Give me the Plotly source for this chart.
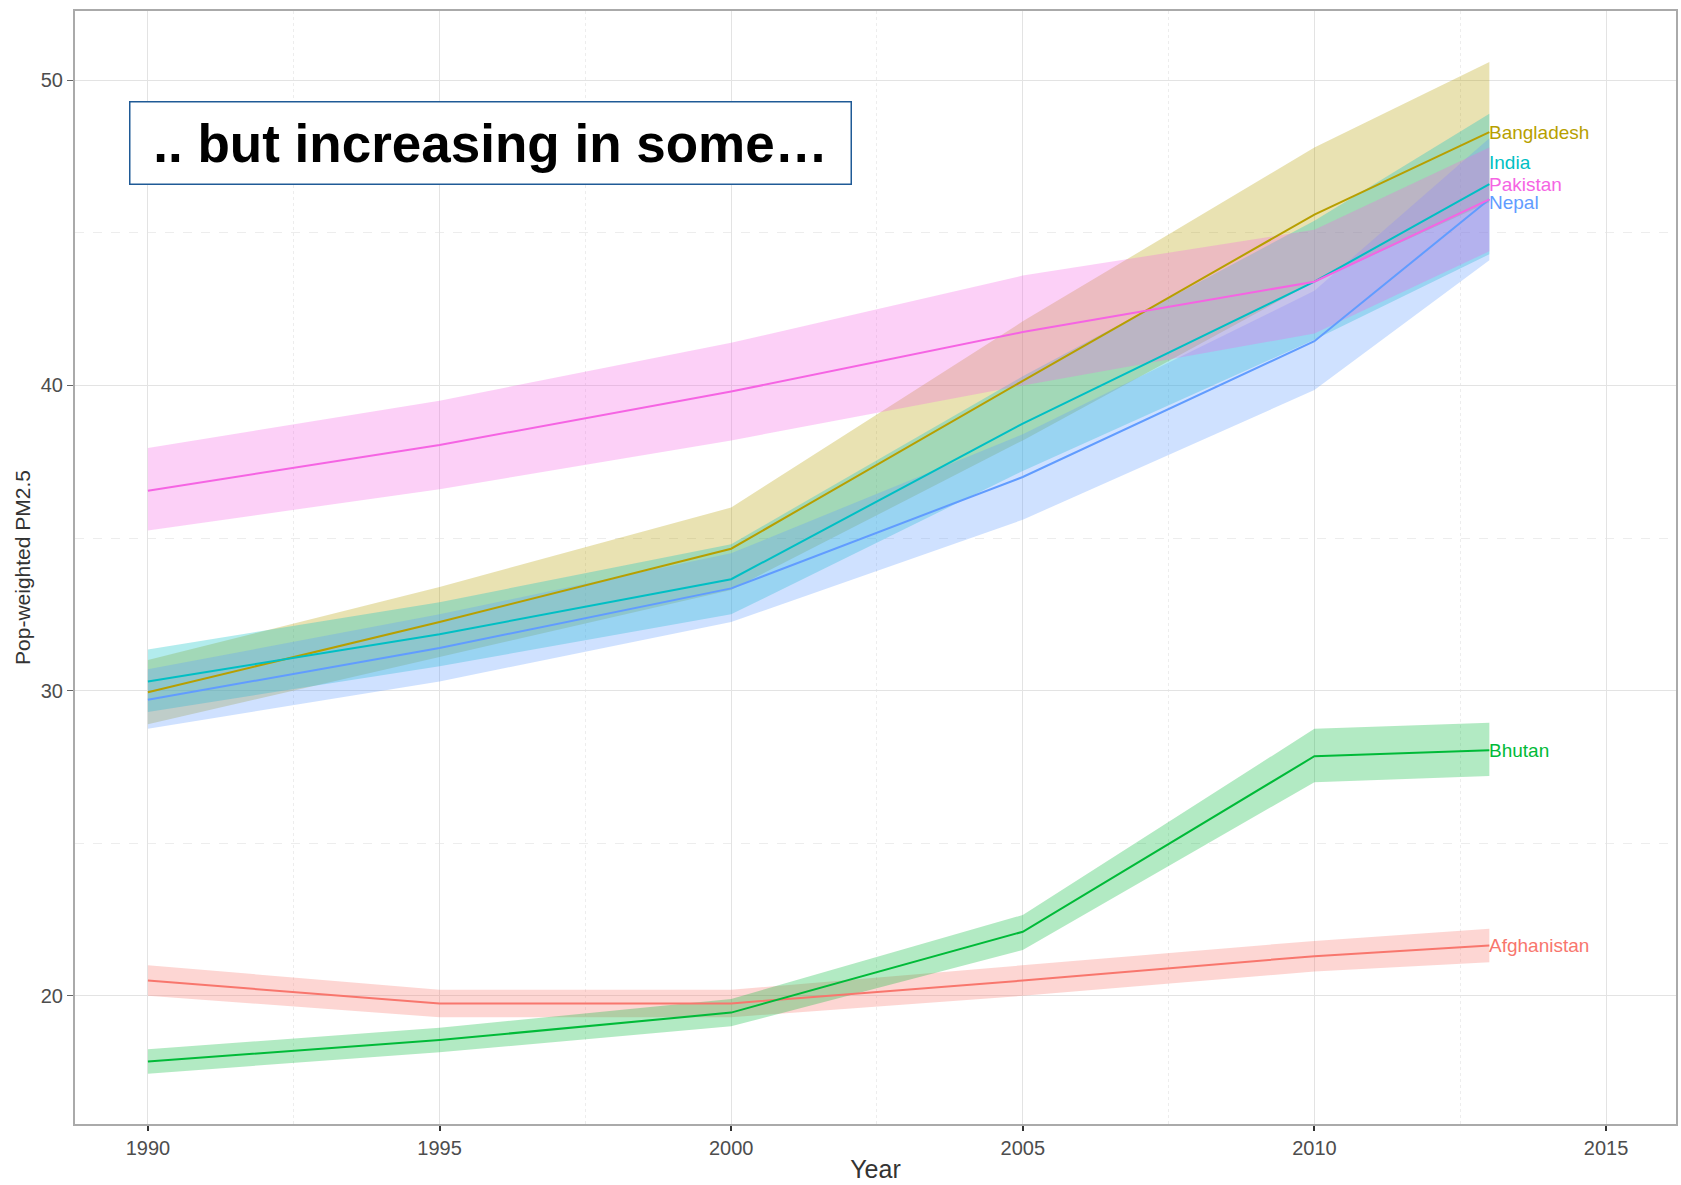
import plotly.graph_objects as go

# Population-weighted PM2.5 by country, with uncertainty bands
years = [1990, 1995, 2000, 2005, 2010, 2013]

countries = ["Afghanistan", "Bangladesh", "Bhutan", "India", "Nepal", "Pakistan"]
colors = ["#F8766D", "#B79F00", "#00BA38", "#00BFC4", "#619CFF", "#F564E3"]

afghanistan = [20.5, 19.75, 19.75, 20.5, 21.3, 21.65]
afghanistan_lo = [20.0, 19.3, 19.3, 20.0, 20.8, 21.1]
afghanistan_hi = [21.0, 20.2, 20.2, 21.0, 21.8, 22.2]

bangladesh = [29.95, 32.25, 34.65, 40.15, 45.6, 48.3]
bangladesh_lo = [28.9, 31.1, 33.3, 38.2, 43.4, 46.0]
bangladesh_hi = [31.0, 33.4, 36.0, 42.1, 47.8, 50.6]

bhutan = [17.85, 18.55, 19.45, 22.1, 27.85, 28.05]
bhutan_lo = [17.45, 18.15, 19.0, 21.5, 27.0, 27.2]
bhutan_hi = [18.25, 18.95, 19.9, 22.65, 28.75, 28.95]

india = [30.3, 31.85, 33.65, 38.75, 43.4, 46.6]
india_lo = [29.3, 30.8, 32.5, 37.2, 41.5, 44.3]
india_hi = [31.35, 32.9, 34.8, 40.3, 45.4, 48.9]

nepal = [29.7, 31.4, 33.35, 37.0, 41.45, 46.1]
nepal_lo = [28.75, 30.3, 32.25, 35.6, 39.85, 44.1]
nepal_hi = [30.7, 32.5, 34.5, 38.4, 43.1, 48.1]

pakistan = [36.55, 38.05, 39.8, 41.75, 43.4, 46.1]
pakistan_lo = [35.25, 36.6, 38.2, 40.0, 41.7, 44.4]
pakistan_hi = [37.95, 39.5, 41.4, 43.6, 45.1, 47.8]

label_y = [21.65, 48.3, 28.05, 47.3, 46.0, 46.6]

series = [
    (afghanistan, afghanistan_lo, afghanistan_hi),
    (bangladesh, bangladesh_lo, bangladesh_hi),
    (bhutan, bhutan_lo, bhutan_hi),
    (india, india_lo, india_hi),
    (nepal, nepal_lo, nepal_hi),
    (pakistan, pakistan_lo, pakistan_hi),
]

x_ticks = [1990, 1995, 2000, 2005, 2010, 2015]
y_ticks = [20, 30, 40, 50]


def rgba(hex_color, alpha):
    h = hex_color.lstrip("#")
    r, g, b = int(h[0:2], 16), int(h[2:4], 16), int(h[4:6], 16)
    return f"rgba({r},{g},{b},{alpha})"


fig = go.Figure()

# ribbons first so lines sit on top
for name, col, (mid, lo, hi) in zip(countries, colors, series):
    fig.add_trace(go.Scatter(
        x=years + years[::-1],
        y=hi + lo[::-1],
        fill="toself",
        fillcolor=rgba(col, 0.3),
        line=dict(width=0),
        mode="lines",
        hoverinfo="skip",
        showlegend=False,
    ))

for name, col, (mid, lo, hi) in zip(countries, colors, series):
    fig.add_trace(go.Scatter(
        x=years, y=mid, mode="lines",
        line=dict(color=col, width=2),
        name=name, showlegend=False,
    ))

for name, col, ly in zip(countries, colors, label_y):
    fig.add_annotation(
        x=years[-1], y=ly, text=name, showarrow=False,
        xanchor="left", yanchor="middle", xshift=-2,
        font=dict(family="Liberation Sans, Arial", size=19, color=col),
    )

# headline box
fig.add_annotation(
    xref="paper", yref="paper", x=0.0335, y=0.9195,
    xanchor="left", yanchor="top",
    text="<b>.. but increasing in some…</b>", showarrow=False,
    font=dict(family="Liberation Sans, Arial", size=53, color="black"),
    bordercolor="#1F5A96", borderwidth=1.5, borderpad=5,
    bgcolor="white", width=710, height=71, align="center", valign="middle",
)

fig.update_layout(
    width=1681, height=1185,
    margin=dict(l=75, r=3, t=11, b=61),
    paper_bgcolor="white", plot_bgcolor="white",
    font=dict(family="Liberation Sans, Arial", color="#333333"),
    xaxis=dict(
        range=[1988.75, 2016.2], tickvals=x_ticks,
        showgrid=True, gridcolor="#E3E3E3", gridwidth=1.2,
        minor=dict(dtick=2.5, tick0=1987.5, showgrid=True, gridcolor="#EDEDED", griddash="dot", gridwidth=1),
        showline=True, linecolor="#AAAAAA", linewidth=2, mirror=True,
        ticks="outside", ticklen=5, tickcolor="#333333", tickwidth=2,
        tickfont=dict(size=20, color="#4D4D4D"),
        title=dict(text="Year", font=dict(size=25, color="#333333"), standoff=2),
        zeroline=False,
    ),
    yaxis=dict(
        range=[15.8, 52.27], tickvals=y_ticks,
        showgrid=True, gridcolor="#E3E3E3", gridwidth=1.2,
        minor=dict(dtick=5, tick0=15, showgrid=True, gridcolor="#EDEDED", griddash="dash", gridwidth=1),
        showline=True, linecolor="#AAAAAA", linewidth=2, mirror=True,
        ticks="outside", ticklen=6, tickcolor="#666666", tickwidth=1,
        tickfont=dict(size=20, color="#4D4D4D"),
        title=dict(text="Pop-weighted PM2.5", font=dict(size=21, color="#333333"), standoff=4),
        zeroline=False,
    ),
)

fig.write_html("out.html")
